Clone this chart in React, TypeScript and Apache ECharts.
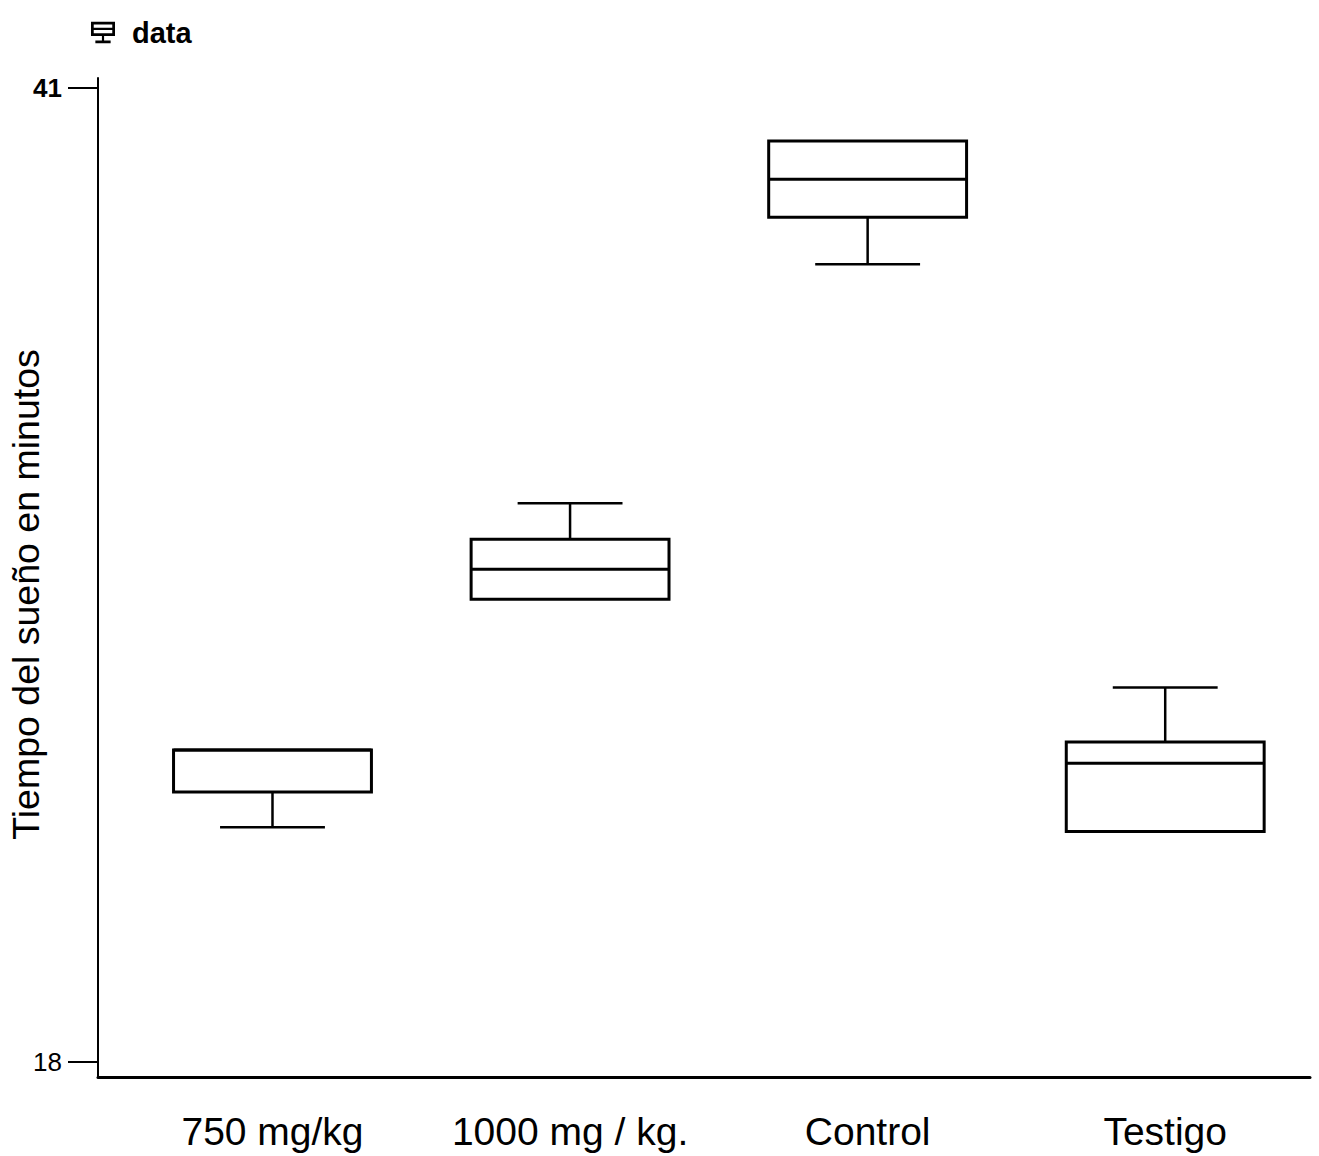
import React, { useEffect, useRef } from "react";
import * as echarts from "echarts";

const categories = ["750 mg/kg", "1000 mg / kg.", "Control", "Testigo"];
// [low whisker, Q1, median, Q3, high whisker]
const lowValues = [23.55, 28.93, 36.84, 23.45];
const q1Values = [24.38, 28.93, 37.95, 23.45];
const medianValues = [25.37, 29.64, 38.85, 25.06];
const q3Values = [25.37, 30.35, 39.75, 25.56];
const highValues = [25.37, 31.2, 39.75, 26.85];
const yTickValues = [18, 41];
const yMin = 17.65;
const yMax = 41.24;
const seriesName = "data";
const yAxisTitle = "Tiempo del sueño en minutos";

const FONT = "'Liberation Sans', Arial, Helvetica, sans-serif";

const legendIcon =
  "path://M2,2 H24 V15 H2 Z M4.5,4.5 V7.5 H21.5 V4.5 Z M4.5,9.5 V12.5 H21.5 V9.5 Z M12,15 H14 V19 H12 Z M6,19 H20 V21.5 H6 Z";

export default function App() {
  const ref = useRef<HTMLDivElement>(null);

  useEffect(() => {
    if (!ref.current) return;
    const chart = echarts.init(ref.current, null, { renderer: "svg" });

    const data = categories.map((_, i) => [
      i,
      lowValues[i],
      q1Values[i],
      medianValues[i],
      q3Values[i],
      highValues[i],
    ]);

    const renderItem = (params: any, api: any) => {
      const idx = api.value(0);
      const low = api.value(1);
      const q1 = api.value(2);
      const med = api.value(3);
      const q3 = api.value(4);
      const high = api.value(5);
      const pLow = api.coord([idx, low]);
      const pQ1 = api.coord([idx, q1]);
      const pMed = api.coord([idx, med]);
      const pQ3 = api.coord([idx, q3]);
      const pHigh = api.coord([idx, high]);
      const band = api.size([1, 0])[0];
      const bw = band * 0.665;
      const cw = bw * 0.53;
      const cx = pMed[0];
      const boxStyle = { stroke: "#000", lineWidth: 3, fill: "#fff" };
      const lineStyle = { stroke: "#000", lineWidth: 2.5 };
      const children: any[] = [];
      if (high > q3) {
        children.push({
          type: "line",
          shape: { x1: cx, y1: pQ3[1], x2: cx, y2: pHigh[1] },
          style: lineStyle,
        });
        children.push({
          type: "line",
          shape: { x1: cx - cw / 2, y1: pHigh[1], x2: cx + cw / 2, y2: pHigh[1] },
          style: lineStyle,
        });
      }
      if (low < q1) {
        children.push({
          type: "line",
          shape: { x1: cx, y1: pQ1[1], x2: cx, y2: pLow[1] },
          style: lineStyle,
        });
        children.push({
          type: "line",
          shape: { x1: cx - cw / 2, y1: pLow[1], x2: cx + cw / 2, y2: pLow[1] },
          style: lineStyle,
        });
      }
      children.push({
        type: "rect",
        shape: { x: cx - bw / 2, y: pQ3[1], width: bw, height: pQ1[1] - pQ3[1] },
        style: boxStyle,
      });
      children.push({
        type: "line",
        shape: { x1: cx - bw / 2, y1: pMed[1], x2: cx + bw / 2, y2: pMed[1] },
        style: { stroke: "#000", lineWidth: 3 },
      });
      return { type: "group", children };
    };

    chart.setOption({
      animation: false,
      backgroundColor: "#fff",
      legend: {
        left: 86,
        top: 13,
        data: [{ name: seriesName, icon: legendIcon }],
        itemWidth: 24,
        itemHeight: 23,
        textStyle: {
          fontSize: 29,
          fontWeight: "bold",
          color: "#000",
          fontFamily: FONT,
          padding: [0, 0, 0, 12],
        },
      },
      grid: [
        { left: 123.7, right: 5, top: 78, bottom: 79, outerBoundsMode: "none", containLabel: false },
        { left: 98, right: 9, top: 78, bottom: 79, outerBoundsMode: "none", containLabel: false },
      ],
      xAxis: [
        {
          gridIndex: 0,
          type: "category",
          data: categories,
          axisLine: { show: false },
          axisTick: { show: false },
          splitLine: { show: false },
          axisLabel: {
            fontSize: 39,
            color: "#000",
            fontFamily: FONT,
            margin: 35,
            interval: 0,
          },
        },
        {
          gridIndex: 1,
          type: "value",
          min: 0,
          max: 1,
          axisLine: { show: true, onZero: false, lineStyle: { color: "#000", width: 3 } },
          axisTick: { show: false },
          axisLabel: { show: false },
          splitLine: { show: false },
        },
      ],
      yAxis: [
        {
          gridIndex: 0,
          type: "value",
          min: yMin,
          max: yMax,
          show: false,
          splitLine: { show: false },
        },
        {
          gridIndex: 1,
          type: "value",
          min: yMin,
          max: yMax,
          name: yAxisTitle,
          nameLocation: "middle",
          nameGap: 53,
          nameMoveOverlap: false,
          nameTextStyle: {
            fontSize: 37.5,
            color: "#000",
            fontFamily: FONT,
            padding: [0, 34, 0, 0],
          },
          axisLine: { show: true, onZero: false, lineStyle: { color: "#000", width: 2 } },
          axisTick: {
            show: true,
            length: 30,
            customValues: yTickValues,
            lineStyle: { color: "#000", width: 2 },
          },
          axisLabel: {
            customValues: yTickValues,
            fontSize: 26,
            color: "#000",
            fontFamily: FONT,
            margin: 36,
            formatter: (v: number) => (v === 41 ? "{b|" + v + "}" : String(v)),
            rich: { b: { fontSize: 26, fontWeight: "bold", color: "#000", fontFamily: FONT } },
          },
          splitLine: { show: false },
        },
      ],
      series: [
        {
          name: seriesName,
          type: "custom",
          xAxisIndex: 0,
          yAxisIndex: 0,
          itemStyle: { color: "#000" },
          encode: { x: 0, y: [1, 2, 3, 4, 5] },
          renderItem,
          data,
        },
      ],
    });

    return () => chart.dispose();
  }, []);

  return (
    <div
      ref={ref}
      style={{ position: "fixed", left: 0, top: 0, width: 1319, height: 1156 }}
    />
  );
}
